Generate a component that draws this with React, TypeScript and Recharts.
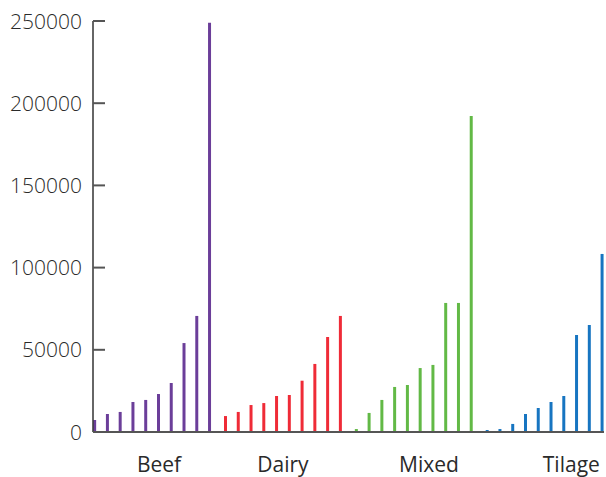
import { BarChart, Bar, XAxis, YAxis, Cell } from 'recharts'

// values, 10 bars per farm type
const CATEGORIES = ['Beef', 'Dairy', 'Mixed', 'Tilage']
const BEEF   = [7300, 10950, 12200, 18250, 19500, 23100, 29800, 54100, 70600, 249000]
const DAIRY  = [9700, 12200, 16400, 17600, 21900, 22500, 31200, 41400, 57800, 70600]
const MIXED  = [1800, 11600, 19500, 27400, 28600, 38900, 40800, 78500, 78500, 192200]
const TILAGE = [1200, 1800, 4900, 10950, 14600, 18250, 21900, 59000, 65100, 108300]
const Y_TICKS = [0, 50000, 100000, 150000, 200000, 250000]

const COLORS = ['#6b3e99', '#ef2b37', '#62b946', '#1775c1']
// where each category label sits on the bar axis
const LABEL_POS = [5.05, 14.76, 26.2, 37.35]
const GROUP_STEP = 10.25

const groups = [BEEF, DAIRY, MIXED, TILAGE]
const data = groups.flatMap((vals, g) =>
  vals.map((v, i) => ({ pos: g * GROUP_STEP + i, value: v, group: g }))
)

const FONT = '"Open Sans", "DejaVu Sans", sans-serif'

function YTick(props: any) {
  const { x, y, payload } = props
  return (
    <g>
      <text x={x} y={y} dy="0.36em" textAnchor="end" fontFamily={FONT} fontSize={21} fontWeight={300} fill="#2a2a2a">
        {payload.value}
      </text>
      <line x1={x + 11} x2={x + 23} y1={y} y2={y} stroke="#555" strokeWidth={2} />
    </g>
  )
}

export default function App() {
  return (
    <div style={{ position: 'absolute', left: 0, top: 0, background: '#fff' }}>
      <BarChart width={606} height={477} data={data} margin={{ top: 21, right: 2, left: 0, bottom: 0 }}>
        <XAxis
          type="number"
          dataKey="pos"
          domain={[-0.12, 39.91]}
          ticks={LABEL_POS}
          interval={0}
          tickFormatter={(_v: number, i: number) => CATEGORIES[i]}
          tickLine={false}
          tickSize={0}
          tickMargin={25}
          height={45}
          axisLine={{ stroke: '#555', strokeWidth: 2 }}
          tick={{ fontFamily: FONT, fontSize: 21, fill: '#2a2a2a' }}
        />
        <YAxis
          type="number"
          domain={[0, 250000]}
          ticks={Y_TICKS}
          width={93}
          tickSize={0}
          tickMargin={11}
          tickLine={false}
          axisLine={{ stroke: '#333', strokeWidth: 1.5 }}
          tick={YTick}
        />
        <Bar dataKey="value" barSize={3} isAnimationActive={false}>
          {data.map((d, i) => (
            <Cell key={i} fill={COLORS[d.group]} />
          ))}
        </Bar>
      </BarChart>
    </div>
  )
}
